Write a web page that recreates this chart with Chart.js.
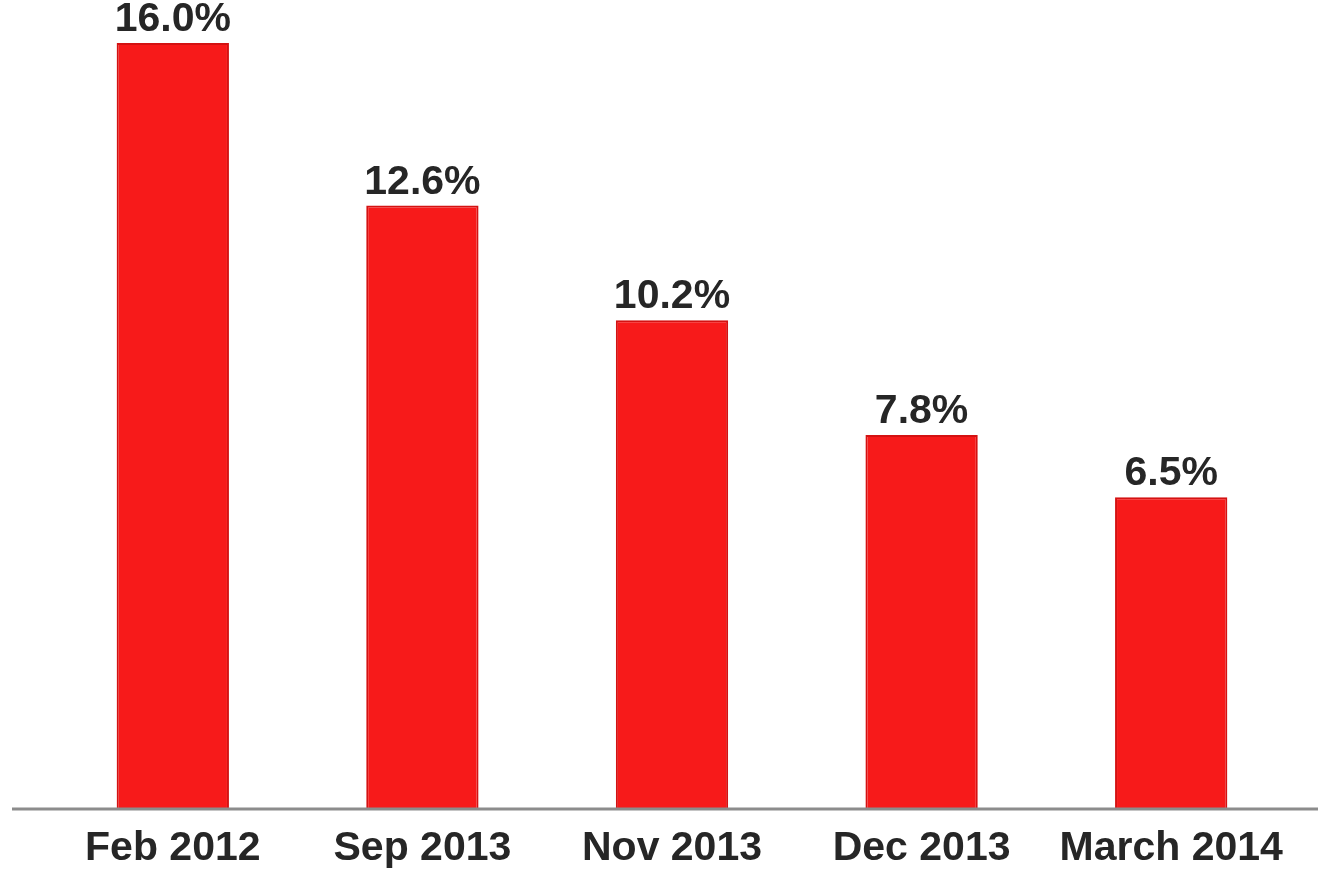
<!DOCTYPE html>
<html>
<head>
<meta charset="utf-8">
<title>Rate by period</title>
<script src="https://cdn.jsdelivr.net/npm/chart.js@4/dist/chart.umd.min.js"></script>
<style>
  html, body { margin: 0; padding: 0; background: #fff; }
  #wrap { width: 1318px; height: 877px; position: relative; }
</style>
</head>
<body>
<div id="wrap"><canvas id="chart"></canvas></div>
<script>
// Data
const categories = ['Feb 2012', 'Sep 2013', 'Nov 2013', 'Dec 2013', 'March 2014'];
const rates = [16.0, 12.6, 10.2, 7.8, 6.5];
const valueLabels = ['16.0%', '12.6%', '10.2%', '7.8%', '6.5%'];

const FONT = "'Liberation Sans', Arial, sans-serif";
const TEXT = '#262626';

// value labels above each bar + the long grey base line
const barLabels = {
    id: 'barLabels',
    afterDatasetsDraw(chart) {
        const ctx = chart.ctx;
        const meta = chart.getDatasetMeta(0);
        const y0 = chart.scales.y.getPixelForValue(0);

        ctx.save();
        ctx.strokeStyle = '#8c8c8c';
        ctx.lineWidth = 3;
        ctx.beginPath();
        ctx.moveTo(12, y0 + 1);
        ctx.lineTo(chart.width, y0 + 1);
        ctx.stroke();

        ctx.fillStyle = TEXT;
        ctx.font = 'bold 41px ' + FONT;
        ctx.textAlign = 'center';
        ctx.textBaseline = 'alphabetic';
        meta.data.forEach((bar, i) => {
            ctx.fillText(valueLabels[i], bar.x, bar.y - 12);
        });
        ctx.restore();
    }
};

new Chart(document.getElementById('chart'), {
    type: 'bar',
    data: {
        labels: categories,
        datasets: [{
            data: rates,
            backgroundColor: '#f71a1a',
            borderColor: '#d41212',
            borderWidth: 2,
            categoryPercentage: 1,
            barPercentage: 0.45
        }]
    },
    options: {
        responsive: true,
        maintainAspectRatio: false,
        animation: false,
        layout: { padding: { top: 0, left: 48, right: 22, bottom: 0 } },
        plugins: {
            legend: { display: false },
            tooltip: { enabled: false }
        },
        scales: {
            x: {
                grid: { display: false, drawTicks: false },
                border: { display: false },
                afterFit(scale) { scale.height = 69; },
                ticks: {
                    color: TEXT,
                    padding: 16,
                    maxRotation: 0,
                    autoSkip: false,
                    font: { family: FONT, size: 41, weight: 'bold', lineHeight: 1.2 }
                }
            },
            y: {
                display: false,
                min: 0,
                max: 16.9
            }
        }
    },
    plugins: [barLabels]
});
</script>
</body>
</html>
